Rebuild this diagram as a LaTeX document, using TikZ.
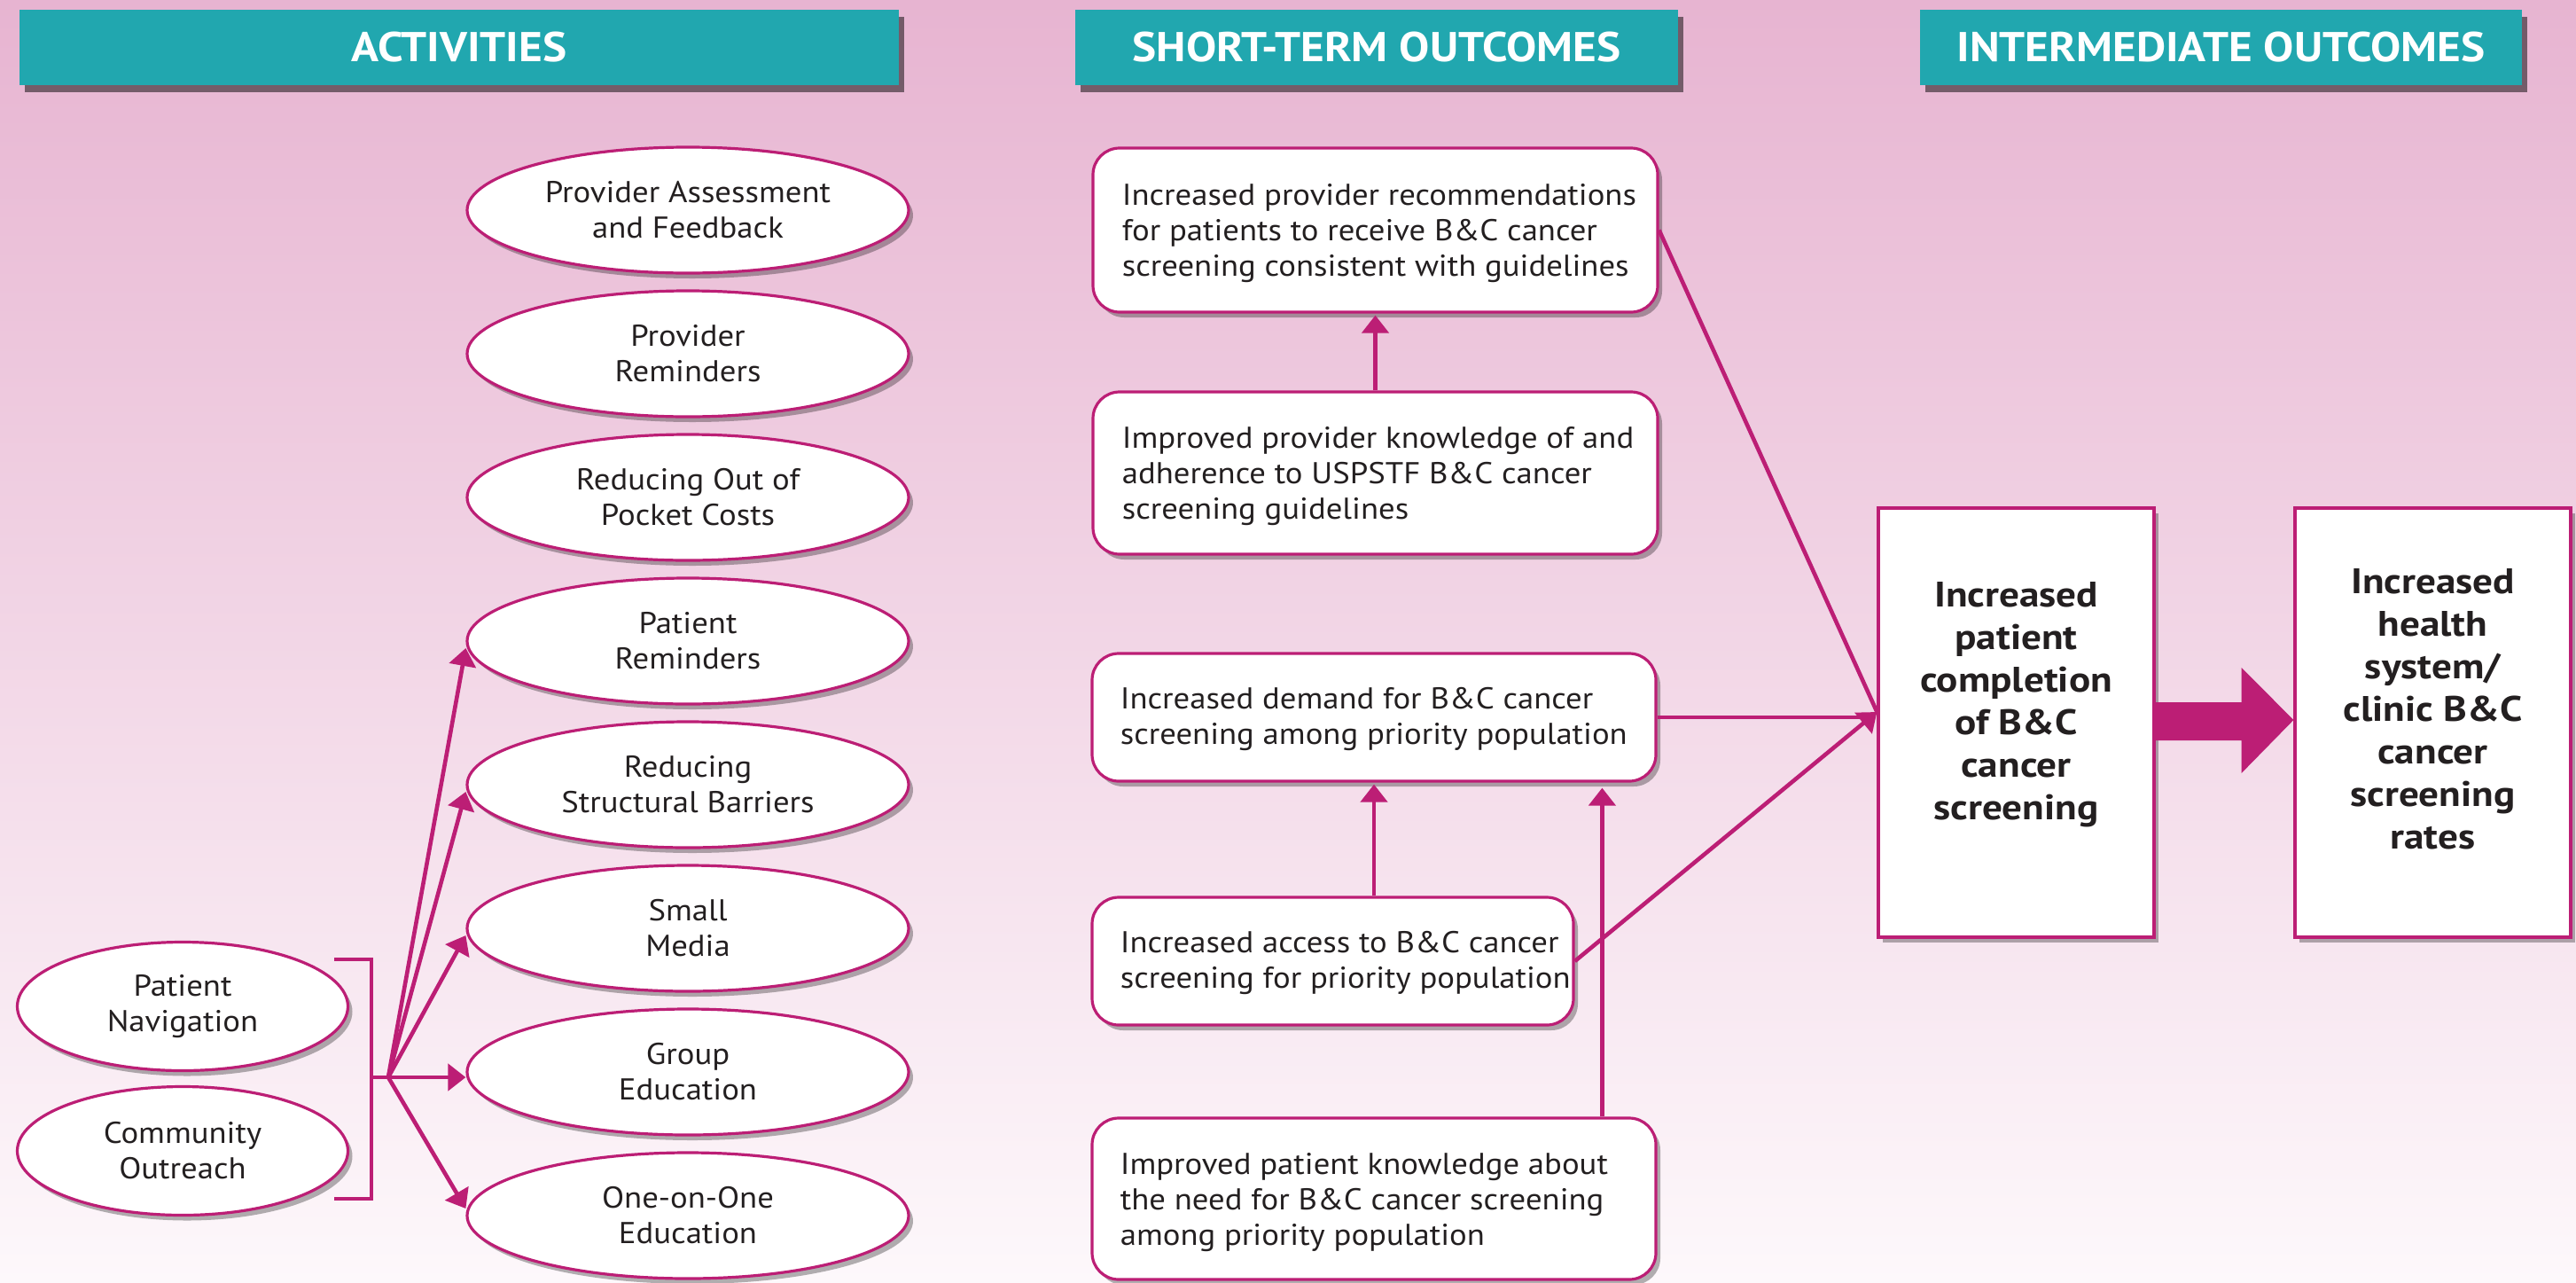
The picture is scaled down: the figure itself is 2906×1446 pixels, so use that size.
\documentclass[tikz,border=0pt]{standalone}
\usepackage{fontspec}
\setmainfont{PT Sans}
\newfontfamily\wideA[FakeStretch=1.08]{PT Sans}
\newfontfamily\wideB[FakeStretch=1.13]{PT Sans}
\newfontfamily\wideH[FakeStretch=1.09]{PT Sans}
\usetikzlibrary{shapes.geometric,arrows.meta,shadows,calc}
\definecolor{bgtop}{RGB}{231,180,209}
\definecolor{bgmid}{RGB}{241,211,228}
\definecolor{bgbot}{RGB}{253,248,251}
\definecolor{tealc}{RGB}{33,167,175}
\definecolor{magc}{RGB}{188,30,117}
\definecolor{inkc}{RGB}{35,31,32}
\newcommand{\ftbody}{\wideA\fontsize{17}{20}\selectfont}
\newcommand{\ftbold}{\wideB\fontsize{20}{24}\selectfont\bfseries}
\newcommand{\fthdr}{\wideH\fontsize{23.5}{28}\selectfont\bfseries}
\tikzset{
  hdr/.style={fill=tealc, text=white, font=\fthdr, inner sep=0, minimum height=42.5pt,
    drop shadow={shadow xshift=3pt,shadow yshift=-4pt,fill=black,opacity=0.5}},
  act/.style={ellipse, draw=magc, line width=1.6pt, fill=white, text=inkc, font=\ftbody,
    align=center, minimum width=249pt, minimum height=71pt, inner sep=0,
    drop shadow={shadow xshift=2.5pt,shadow yshift=-3pt,fill=black,opacity=0.3}},
  sbox/.style={rectangle, rounded corners=15pt, draw=magc, line width=1.6pt, fill=white,
    drop shadow={shadow xshift=2.5pt,shadow yshift=-3pt,fill=black,opacity=0.3}},
  stxt/.style={anchor=west, align=left, inner sep=0, text=inkc, font=\ftbody},
  bbox/.style={rectangle, draw=magc, line width=1.6pt, fill=white, minimum width=155.5pt,
    minimum height=242pt, drop shadow={shadow xshift=2.5pt,shadow yshift=-3pt,fill=black,opacity=0.3}},
  btxt/.style={align=center, font=\ftbold, text=inkc, inner sep=0},
  conn/.style={draw=magc, line width=2.3pt},
  arr/.style={conn, -{Triangle[length=10pt,width=15pt]}}
}
\begin{document}
\begin{tikzpicture}[x=0.5pt,y=-0.5pt]
\useasboundingbox (0,0) rectangle (2906,1446);
\shade[top color=bgtop, middle color=bgmid, bottom color=bgbot] (0,0) rectangle (2906,1446);

% headers
\node[hdr, minimum width=496pt] (h1) at (518,53.5) {ACTIVITIES};
\node[hdr, minimum width=340pt] (h2) at (1553,53.5) {SHORT-TERM OUTCOMES};
\node[hdr, minimum width=339.5pt] (h3) at (2505.5,53.5) {INTERMEDIATE OUTCOMES};

% activities
\node[act] (e1) at (776,237) {Provider Assessment\\and Feedback};
\node[act] (e2) at (776,399) {Provider\\Reminders};
\node[act] (e3) at (776,561) {Reducing Out of\\Pocket Costs};
\node[act] (e4) at (776,723) {Patient\\Reminders};
\node[act] (e5) at (776,885) {Reducing\\Structural Barriers};
\node[act] (e6) at (776,1047) {Small\\Media};
\node[act] (e7) at (776,1209) {Group\\Education};
\node[act] (e8) at (776,1371) {One-on-One\\Education};
\node[act, minimum width=186.5pt, minimum height=72.5pt] (p1) at (206,1135) {Patient\\Navigation};
\node[act, minimum width=186.5pt, minimum height=72.5pt] (p2) at (206,1298) {Community\\Outreach};

% bracket and hub
\coordinate (hub) at (438,1215);
\coordinate (bt) at (377,1082);
\draw[conn] (bt) -- ++(42,0) -- ++(0,270) -- ++(-42,0);
\draw[conn] (419,1215) -- (hub);
\draw[arr] (hub) -- ([yshift=-4pt]e4.west);
\draw[arr] (hub) -- ([yshift=-4pt]e5.west);
\draw[arr] (hub) -- ([yshift=-4pt]e6.west);
\draw[arr] (hub) -- ([yshift=-3pt]e7.west);
\draw[arr] (hub) -- ([yshift=4pt]e8.west);

% short-term outcomes
\node[sbox, minimum width=318.5pt, minimum height=92.5pt] (s1) at (1551.5,259.5) {};
\node[stxt] (t1) at ([xshift=17pt,yshift=-2pt]s1.west) {Increased provider recommendations\\for patients to receive B\&C cancer\\screening consistent with guidelines};
\node[sbox, minimum width=318.5pt, minimum height=91.5pt] (s2) at (1551.5,533.5) {};
\node[stxt] (t2) at ([xshift=17pt,yshift=-2pt]s2.west) {Improved provider knowledge of and\\adherence to USPSTF B\&C cancer\\screening guidelines};
\node[sbox, minimum width=318pt, minimum height=72pt] (s3) at (1550,809) {};
\node[stxt] (t3) at ([xshift=16.5pt,yshift=-1pt]s3.west) {Increased demand for B\&C cancer\\screening among priority population};
\node[sbox, minimum width=271.5pt, minimum height=72pt] (s4) at (1503.5,1084) {};
\node[stxt] (t4) at ([xshift=16.5pt,yshift=-1pt]s4.west) {Increased access to B\&C cancer\\screening for priority population};
\node[sbox, minimum width=318pt, minimum height=91pt] (s5) at (1550,1352) {};
\node[stxt] (t5) at ([xshift=16.5pt,yshift=-2pt]s5.west) {Improved patient knowledge about\\the need for B\&C cancer screening\\among priority population};

% intermediate outcomes
\node[bbox] (c1) at (2274.5,815) {};
\node[btxt] (tc) at (2274.5,795) {Increased\\patient\\completion\\of B\&C\\cancer\\screening};
\node[bbox] (f1) at (2744.5,815) {};
\node[btxt] (tf) at (2744.5,800) {Increased\\health\\system/\\clinic B\&C\\cancer\\screening\\rates};

% short-term connectors
\draw[arr, shorten >=1pt] (s2.north) -- (s1.south);
\draw[arr, shorten >=1pt] (s3.south |- s4.north) -- (s3.south);
\coordinate (k5) at ($(s5.north west)+(577,0)$);
\draw[arr, shorten >=3pt] (k5) -- (k5 |- s3.south);

\coordinate (cv) at ($(c1.west)+(0,-12)$);
\draw[conn] (s1.east) -- (cv);
\draw[conn] (s3.east) -- ($(s3.east -| cv)+(-12,0)$);
\draw[arr] (s4.east) -- (cv);

% block arrow
\fill[magc] ($(c1.east)+(0,-23)$) -- ($(c1.east)+(97,-23)$) -- ($(c1.east)+(97,-62)$)
  -- ($(f1.west)+(0,-3)$) -- ($(c1.east)+(97,57)$) -- ($(c1.east)+(97,20)$)
  -- ($(c1.east)+(0,20)$) -- cycle;
\end{tikzpicture}
\end{document}
